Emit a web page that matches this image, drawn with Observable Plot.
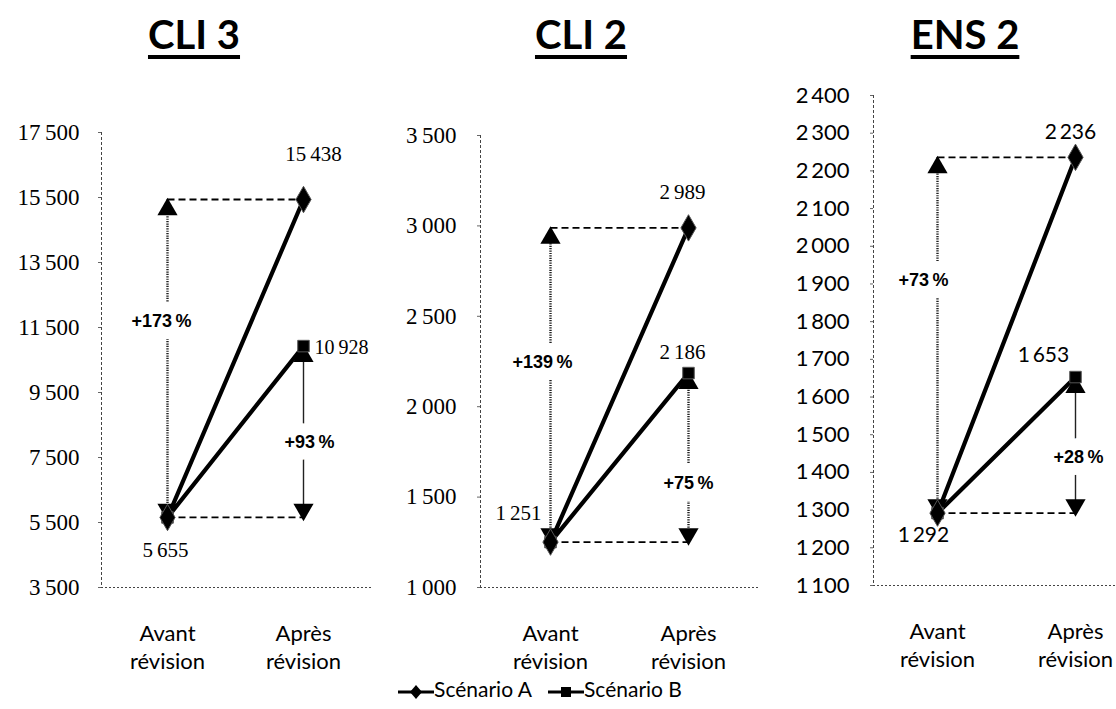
<!DOCTYPE html>
<html><head><meta charset="utf-8">
<script src="https://cdn.jsdelivr.net/npm/d3@7"></script>
<script src="https://cdn.jsdelivr.net/npm/@observablehq/plot@0.6"></script>
<style>
body{margin:0;background:#fff;}
#wrap{position:relative;width:1116px;height:709px;overflow:hidden;font-family:Lato,"Open Sans",sans-serif;color:#000;}
.title{position:absolute;top:10px;font-weight:bold;font-size:40px;line-height:48px;text-decoration:underline;text-underline-offset:6px;text-decoration-thickness:4px;transform:translateX(-50%);white-space:nowrap;}
.panel{position:absolute;top:80px;overflow:visible;}
#legend{position:absolute;top:676px;left:0;width:1080px;text-align:center;font-size:21px;line-height:26px;white-space:nowrap;}
#legend svg{vertical-align:middle;}
</style></head><body><div id="wrap"></div>
<script>
// ---- data ----
const panels = ["CLI 3", "CLI 2", "ENS 2"];
const periods = ["Avant révision", "Après révision"];
const seriesNames = ["Scénario A", "Scénario B"];
const scenarioA = [[5655, 15438], [1251, 2989], [1292, 2236]];
const scenarioB = [[5655, 10928], [1251, 2186], [1292, 1653]];
const yTicks = [
  [3500, 5500, 7500, 9500, 11500, 13500, 15500, 17500],
  [1000, 1500, 2000, 2500, 3000, 3500],
  [1100, 1200, 1300, 1400, 1500, 1600, 1700, 1800, 1900, 2000, 2100, 2200, 2300, 2400]
];

// ---- layout (positions / styles only) ----
const layout = [
  {left: 0,   width: 372, ml: 101, mt: 52, mb: 93, xr: [167, 303], titleX: 194, tickPad: 19, tickFont: "'Liberation Serif', serif", valFont: "'Liberation Serif', serif",
   lab: {a1: [10, -45, "middle"], b1: [11, 2, "start"], s: [-2, 33, "middle"]}, pct: {l: [-6, -37], r: [6, 10]}},
  {left: 378, width: 380, ml: 102, mt: 55, mb: 93, xr: [172, 310], titleX: 581, tickPad: 21, tickFont: "'Liberation Serif', serif", valFont: "'Liberation Serif', serif",
   lab: {a1: [-6, -36, "middle"], b1: [-6, -21, "middle"], s: [-32, -29, "middle"]}, pct: {l: [-8, -23], r: [0, 26]}},
  {left: 760, width: 356, ml: 113, mt: 15, mb: 95, xr: [177, 315], titleX: 965, tickPad: 21, tickFont: "Lato, sans-serif", valFont: "Lato, sans-serif",
   lab: {a1: [-5, -25, "middle"], b1: [-32, -22, "middle"], s: [-14, 22, "middle"]}, pct: {l: [-14, -55], r: [3, 12]}}
];

const fmt = v => d3.format(",")(v).replace(/,/g, "\u2009");
const pct = (from, to) => "+" + Math.round((to / from - 1) * 100) + "\u2009%";

const wrap = document.getElementById("wrap");

panels.forEach((name, i) => {
  const L = layout[i];
  const a = scenarioA[i], b = scenarioB[i];
  const rows = periods.flatMap((p, j) => [
    {period: p, value: a[j], s: seriesNames[0]},
    {period: p, value: b[j], s: seriesNames[1]}
  ]);
  const rowsA = rows.filter(d => d.s === seriesNames[0]);
  const rowsB = rows.filter(d => d.s === seriesNames[1]);
  const ticks = yTicks[i];

  const t = document.createElement("div");
  t.className = "title";
  t.style.left = L.titleX + "px";
  t.textContent = name;
  wrap.appendChild(t);

  const plot = Plot.plot({
    width: L.width, height: 600,
    marginLeft: L.ml, marginRight: 0, marginTop: L.mt, marginBottom: L.mb,
    x: {type: "point", domain: periods, range: L.xr, padding: 0, label: null},
    y: {domain: [ticks[0], ticks[ticks.length - 1]], label: null},
    style: {fontFamily: "Lato, sans-serif", fontSize: "19px", color: "#000", background: "transparent", overflow: "visible"},
    marks: [
      Plot.frame({anchor: "left", stroke: "#444", strokeDasharray: "2,3"}),
      Plot.ruleY([ticks[0]], {stroke: "#444", strokeDasharray: "2,2"}),
      Plot.axisY({ticks, tickSize: 3, tickPadding: L.tickPad, tickFormat: fmt, fontSize: i === 2 ? 22 : 23, fontFamily: L.tickFont, stroke: "#666"}),
      Plot.axisX({tickSize: 0, tickPadding: 33, tickFormat: d => d.replace(" ", "\n"), fontSize: 22, lineHeight: 1.3, fontFamily: "Lato, sans-serif"}),
      // dashed horizontal guides
      Plot.link([{y: a[1]}, {y: a[0]}], {x1: () => periods[0], x2: () => periods[1], y1: "y", y2: "y", stroke: "black", strokeWidth: 1.8, strokeDasharray: "7,4"}),
      // vertical arrows
      Plot.link([{x: periods[0], y1: a[0], y2: a[1]}], {x1: "x", x2: "x", y1: "y1", y2: "y2", stroke: "#222", strokeWidth: 2.4, strokeDasharray: "1.2,1.2"}),
      Plot.link([{x: periods[1], y1: a[0], y2: b[1]}], {x1: "x", x2: "x", y1: "y1", y2: "y2", stroke: "#222", strokeWidth: i === 1 ? 2.4 : 1.4, strokeDasharray: i === 1 ? "1.2,1.2" : null}),
      Plot.dot([{x: periods[0], y: a[1]}, {x: periods[1], y: b[1]}], {x: "x", y: "y", dy: 10, symbol: "triangle", r: 7.5, fill: "black"}),
      Plot.dot([{x: periods[0], y: a[0]}, {x: periods[1], y: a[0]}], {x: "x", y: "y", dy: -8, symbol: "triangle", r: 7.5, fill: "black", rotate: 180}),
      // series
      Plot.line(rowsA, {x: "period", y: "value", stroke: "black", strokeWidth: 4.2}),
      Plot.line(rowsB, {x: "period", y: "value", stroke: "black", strokeWidth: 4.2}),
      Plot.dot(rowsB, {x: "period", y: "value", symbol: "square", r: 6.5, fill: "black", stroke: "#555", strokeWidth: 1}),
      Plot.dot(rowsA, {x: "period", y: "value", symbol: "diamond", r: 8, fill: "black", stroke: "#555", strokeWidth: 1}),
      // percentage labels
      Plot.text([{x: periods[0], y: (a[0] + a[1]) / 2, t: pct(a[0], a[1])}], {x: "x", y: "y", text: "t", dx: L.pct.l[0], dy: L.pct.l[1], fontWeight: "bold", fontSize: 18, fontFamily: "'Liberation Sans', sans-serif", letterSpacing: "-0.5px", fill: "black", stroke: "white", strokeWidth: 24}),
      Plot.text([{x: periods[1], y: (a[0] + b[1]) / 2, t: pct(b[0], b[1])}], {x: "x", y: "y", text: "t", dx: L.pct.r[0], dy: L.pct.r[1], fontWeight: "bold", fontSize: 18, fontFamily: "'Liberation Sans', sans-serif", letterSpacing: "-0.5px", fill: "black", stroke: "white", strokeWidth: 24}),
      // value labels
      Plot.text([rowsA[1]], {x: "period", y: "value", text: d => fmt(d.value), dx: L.lab.a1[0], dy: L.lab.a1[1], textAnchor: L.lab.a1[2], fontSize: 21, fontFamily: L.valFont}),
      Plot.text([rowsB[1]], {x: "period", y: "value", text: d => fmt(d.value), dx: L.lab.b1[0], dy: L.lab.b1[1], textAnchor: L.lab.b1[2], fontSize: i === 0 ? 20 : 21, fontFamily: L.valFont}),
      Plot.text([rowsA[0]], {x: "period", y: "value", text: d => fmt(d.value), dx: L.lab.s[0], dy: L.lab.s[1], textAnchor: L.lab.s[2], fontSize: 21, fontFamily: L.valFont})
    ]
  });
  plot.classList.add("panel");
  plot.style.left = L.left + "px";
  wrap.appendChild(plot);
});

// legend
const sw = sym => {
  const shape = sym === "diamond"
    ? '<path d="M18,3 L24,10 L18,17 L12,10 Z" fill="black"/>'
    : '<rect x="13" y="5" width="10" height="10" fill="black"/>';
  return '<svg width="36" height="20"><line x1="0" y1="10" x2="36" y2="10" stroke="black" stroke-width="3"/>' + shape + '</svg>';
};
const leg = document.createElement("div");
leg.id = "legend";
leg.innerHTML = sw("diamond") + seriesNames[0] + '<span style="display:inline-block;width:16px"></span>' + sw("square") + seriesNames[1];
wrap.appendChild(leg);
</script></body></html>
